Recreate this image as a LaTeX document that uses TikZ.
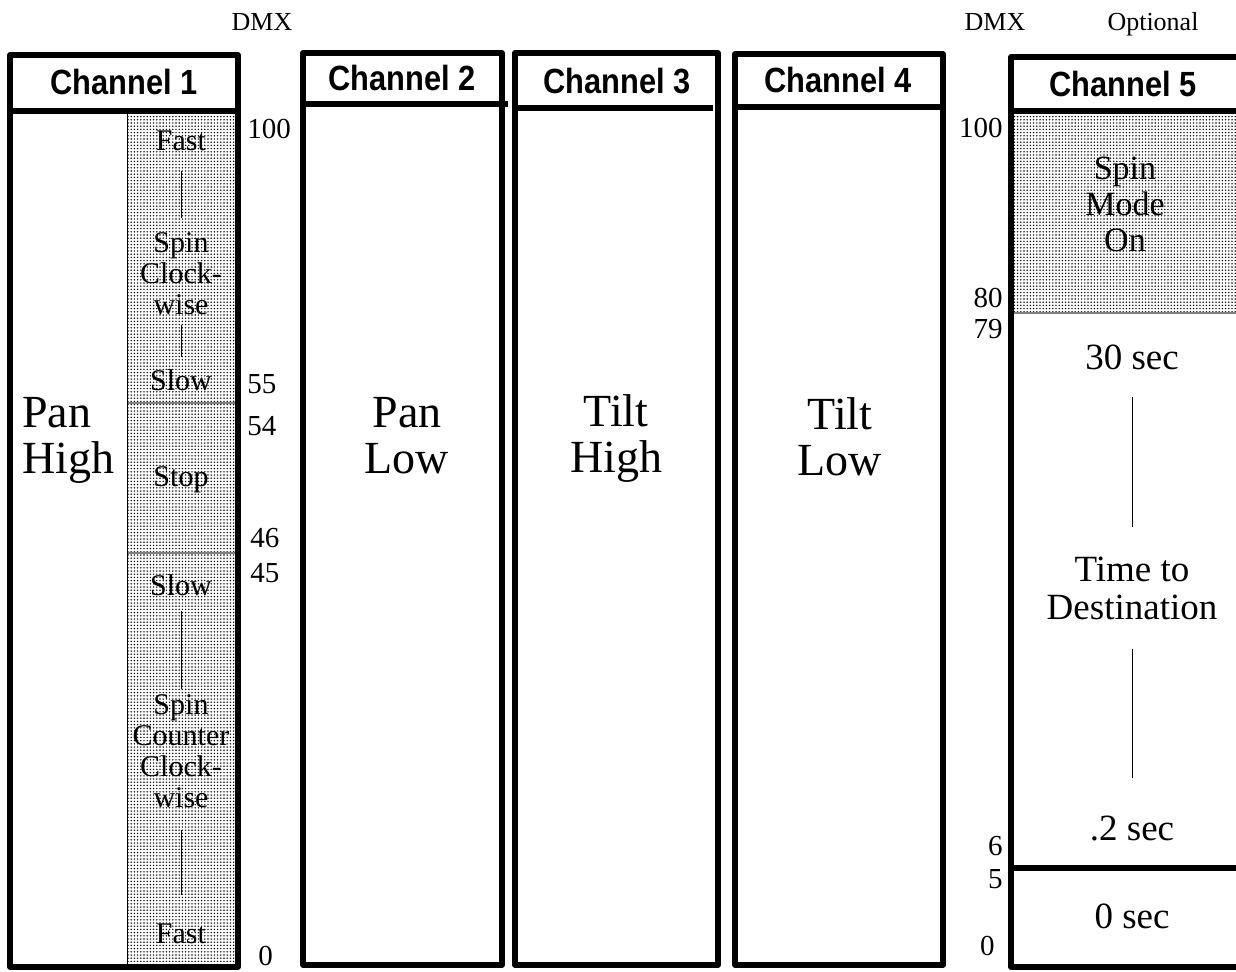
\documentclass[tikz,border=0pt]{standalone}
\usepackage{fontspec}
\setmainfont{Liberation Serif}
\newfontfamily\hdrfont[FakeStretch=0.88]{Liberation Sans}
\usetikzlibrary{patterns.meta}

\tikzset{
  chbox/.style={line width=2.6pt, line join=round},
  chhead/.style={font=\hdrfont\bfseries\fontsize{17.5}{18}\selectfont, anchor=base, inner sep=0pt},
  bigtext/.style={font=\fontsize{23}{23}\selectfont, align=center, inner sep=0pt},
  midtext/.style={font=\fontsize{18.5}{19}\selectfont, align=center, inner sep=0pt},
  spintext/.style={font=\fontsize{17}{18}\selectfont, align=center, inner sep=0pt},
  smalltext/.style={font=\fontsize{15}{15.5}\selectfont, align=center, inner sep=0pt},
  dmxnum/.style={font=\fontsize{14.5}{15}\selectfont, inner sep=0pt},
  toplabel/.style={font=\fontsize{13}{13}\selectfont, anchor=base, inner sep=0pt},
  dotarea/.style={pattern={Dots[distance=1.6pt, radius=0.4pt]}, pattern color=black},
  rangeline/.style={line width=0.5pt},
  divider/.style={line width=0.7pt, gray}
}

\begin{document}
\begin{tikzpicture}[x=0.5pt, y=-0.5pt]
    \useasboundingbox (0,0) rectangle (1236,971);

    % shaded value ranges
    \fill[dotarea] (127,111) rectangle (238,967);
    \fill[dotarea] (1011,111) rectangle (1260,313);
    \draw[divider] (127,403) -- (238,403);
    \draw[divider] (127,553) -- (238,553);
    \draw[rangeline] (127,111) -- (127,967);
    \draw[divider] (1011,313) -- (1260,313);

    % channel boxes
    \draw[chbox] (10,55) rectangle (238,967);
    \draw[chbox] (10,111) -- (238,111);
    \draw[chbox] (303,53) rectangle (502,965);
    \draw[chbox] (303,104) -- (508,104);
    \draw[chbox] (515,53) rectangle (718,965);
    \draw[chbox] (515,108) -- (713,108);
    \draw[chbox] (735,54) rectangle (943,965);
    \draw[chbox] (735,107) -- (943,107);
    \draw[chbox] (1011,57) rectangle (1260,967);
    \draw[chbox] (1011,111) -- (1260,111);
    \draw[chbox] (1011,868) -- (1260,868);

    % headers
    \node[chhead] (h1) at (124,94) {Channel 1};
    \node[chhead] (h2) at (402,90) {Channel 2};
    \node[chhead] (h3) at (617,93) {Channel 3};
    \node[chhead] (h4) at (838,92) {Channel 4};
    \node[chhead] (h5) at (1123,96) {Channel 5};

    \node[toplabel] (dmx1) at (262,30) {DMX};
    \node[toplabel] (dmx5) at (995,30) {DMX};
    \node[toplabel] (opt5) at (1153,30) {Optional};

    % channel 1
    \node[bigtext, align=left, anchor=north west] (pan1) at (22,397) {Pan\\High};
    \node[smalltext, anchor=base] (fast1) at (181,150) {Fast};
    \node[smalltext, anchor=north] (cw1) at (181,232) {Spin\\Clock-\\wise};
    \node[smalltext, anchor=base] (slow1) at (181,390) {Slow};
    \node[smalltext, anchor=base] (stop1) at (181,486) {Stop};
    \node[smalltext, anchor=base] (slow2) at (181,595) {Slow};
    \node[smalltext, anchor=north] (ccw1) at (181,694) {Spin\\Counter\\Clock-\\wise};
    \node[smalltext, anchor=base] (fast2) at (181,943) {Fast};

    \draw[rangeline, shorten <=10pt, shorten >=7pt] (fast1.south) -- (cw1.north);
    \draw[rangeline, shorten <=5pt, shorten >=6pt] (cw1.south) -- (slow1.north);
    \draw[rangeline, shorten <=7.5pt, shorten >=2.5pt] (slow2.south) -- (ccw1.north);
    \draw[rangeline, shorten <=11pt, shorten >=14pt] (ccw1.south) -- (fast2.north);

    \node[dmxnum, anchor=base west] (n100a) at (247,138) {100};
    \node[dmxnum, anchor=base west] (n55a) at (247,393) {55};
    \node[dmxnum, anchor=base west] (n54a) at (247,435) {54};
    \node[dmxnum, anchor=base west] (n46a) at (250,547) {46};
    \node[dmxnum, anchor=base west] (n45a) at (250,582) {45};
    \node[dmxnum, anchor=base west] (n0a) at (258,965) {0};

    % channels 2 to 4
    \node[bigtext, anchor=north] (pan2) at (407,397) {Pan\\Low};
    \node[bigtext, anchor=north] (tilt3) at (616,394) {Tilt\\High};
    \node[bigtext, anchor=north] (tilt4) at (840,397) {Tilt\\Low};

    % channel 5
    \node[spintext, anchor=north] (spin5) at (1125,157) {Spin\\Mode\\On};
    \node[midtext, anchor=base] (s30) at (1132,369) {30 sec};
    \node[midtext, anchor=north] (ttd) at (1132,557) {Time to\\Destination};
    \node[midtext, anchor=base] (s02) at (1132,840) {.2 sec};
    \node[midtext, anchor=base] (s0) at (1132,928) {0 sec};

    \draw[rangeline, shorten <=13.5pt, shorten >=15pt] (s30.south) -- (ttd.north);
    \draw[rangeline, shorten <=14pt, shorten >=18.5pt] (ttd.south) -- (s02.north);

    \node[dmxnum, anchor=base east] (n100e) at (1003,137) {100};
    \node[dmxnum, anchor=base east] (n80e) at (1003,307) {80};
    \node[dmxnum, anchor=base east] (n79e) at (1003,338) {79};
    \node[dmxnum, anchor=base east] (n6e) at (1003,855) {6};
    \node[dmxnum, anchor=base east] (n5e) at (1003,888) {5};
    \node[dmxnum, anchor=base east] (n0e) at (995,955) {0};
\end{tikzpicture}
\end{document}
